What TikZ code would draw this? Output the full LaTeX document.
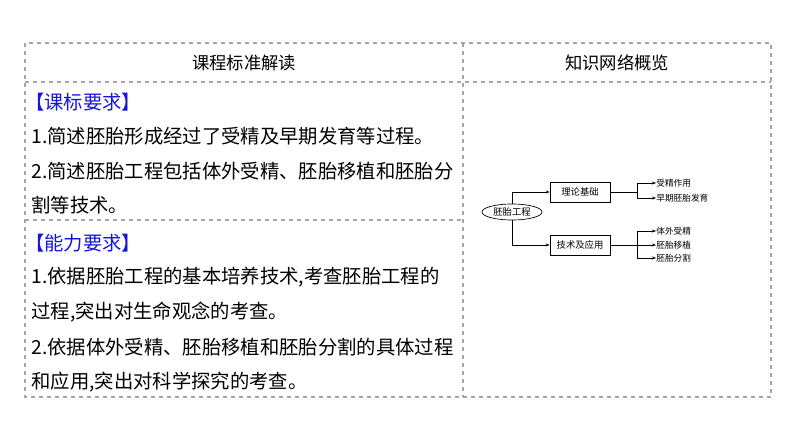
\documentclass[tikz,border=0pt]{standalone}
\usepackage{fontspec}
\setmainfont{Noto Sans CJK SC}
\usetikzlibrary{positioning,shapes.geometric,arrows.meta}

\tikzset{grid line/.style={draw=gray!70, dashed, line width=0.8pt}}
\tikzset{req text/.style={anchor=west, font=\fontsize{14.5}{16}\selectfont, inner sep=0pt}}
\tikzset{head text/.style={font=\fontsize{13}{15}\selectfont}}
\tikzset{topic/.style={draw, minimum width=45pt, minimum height=15pt, inner sep=0pt, font=\fontsize{7}{8}\selectfont}}
\tikzset{leaf/.style={anchor=west, inner sep=0pt, font=\fontsize{6.5}{7}\selectfont}}
\definecolor{reqblue}{RGB}{20,20,220}

\begin{document}
\begin{tikzpicture}[x=0.75pt, y=-0.75pt, line width=0.5pt]
	\useasboundingbox (0,0) rectangle (794,446);

	% table
	\draw[grid line] (25,43) rectangle (771,397);
	\draw[grid line] (463,43) -- (463,397);
	\draw[grid line] (25,82) -- (771,82);
	\draw[grid line] (25,220) -- (463,220);

	\node[head text] (left-head) at (244,63) {课程标准解读};
	\node[head text] (right-head) at (617,63) {知识网络概览};

	\node[req text, text=reqblue] (std-title) at (25,102) {【课标要求】};
	\node[req text] (std1) at (31,136) {1.简述胚胎形成经过了受精及早期发育等过程。};
	\node[req text] (std2) at (31,171) {2.简述胚胎工程包括体外受精、胚胎移植和胚胎分};
	\node[req text] (std3) at (31,205) {割等技术。};
	\node[req text, text=reqblue] (ab-title) at (25,243) {【能力要求】};
	\node[req text] (ab1) at (31,277) {1.依据胚胎工程的基本培养技术,考查胚胎工程的};
	\node[req text] (ab2) at (31,312) {过程,突出对生命观念的考查。};
	\node[req text] (ab3) at (31,347) {2.依据体外受精、胚胎移植和胚胎分割的具体过程};
	\node[req text] (ab4) at (31,382) {和应用,突出对科学探究的考查。};

	% knowledge map
	\node[draw, ellipse, minimum width=45pt, minimum height=12pt, inner sep=0pt, font=\fontsize{7}{8}\selectfont] (embryo) at (512,212) {胚胎工程};
	\node[topic] (theory) at (580,192) {理论基础};
	\node[topic] (tech) at (580,245) {技术及应用};

	\node[leaf] (fert) at (656,183) {受精作用};
	\node[leaf] (early) at (656,198) {早期胚胎发育};
	\node[leaf] (ivf) at (656,231) {体外受精};
	\node[leaf] (transfer) at (656,245) {胚胎移植};
	\node[leaf] (split) at (656,258) {胚胎分割};

	\draw[-{Stealth[length=3pt]}] (embryo.north) |- (theory.west);
	\draw[-{Stealth[length=3pt]}] (embryo.south) |- (tech.west);

	\draw (theory.east) -- (637,192);
	\draw[-{Stealth[length=3pt]}] (637,192) |- (fert.west);
	\draw[-{Stealth[length=3pt]}] (637,192) |- (early.west);
	\draw[-{Stealth[length=3pt]}] (tech.east) -- (transfer.west);
	\draw[-{Stealth[length=3pt]}] (637,245) |- (ivf.west);
	\draw[-{Stealth[length=3pt]}] (637,245) |- (split.west);
\end{tikzpicture}
\end{document}
